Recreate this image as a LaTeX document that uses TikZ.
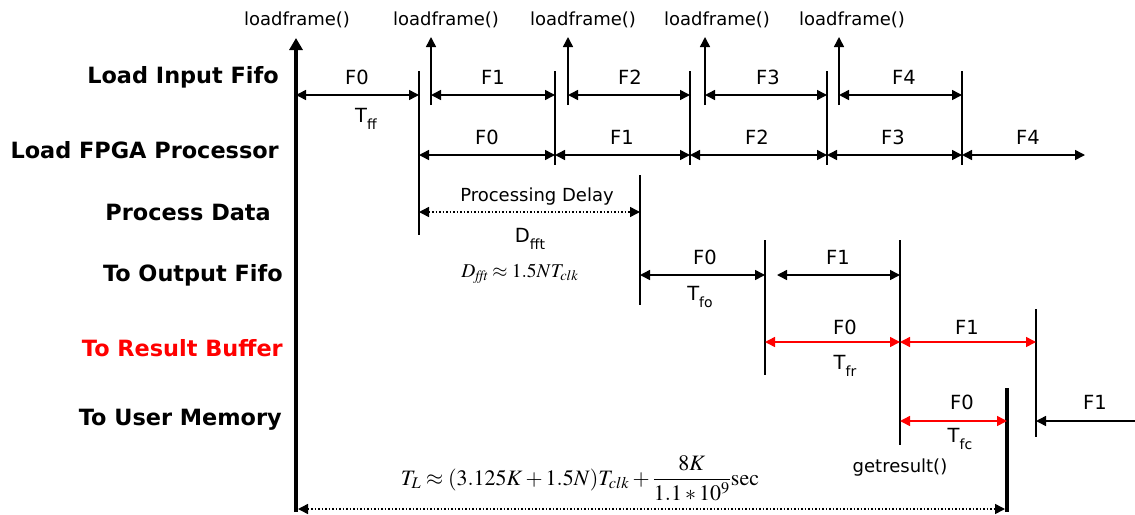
\documentclass[tikz,border=0pt]{standalone}
\usepackage{amsmath}
\usepackage{mathptmx}
\usepackage{fontspec}
\setsansfont{DejaVu Sans}
\usetikzlibrary{arrows.meta}
\newcommand\mysub[1]{\raisebox{-0.38em}{\fontsize{14}{14}\selectfont #1}}
\begin{document}
\begin{tikzpicture}[x=1pt,y=-1pt,
  lab/.style={font=\fontsize{22.4}{22.4}\selectfont\sffamily\bfseries, anchor=east, inner sep=0},
  txt/.style={font=\fontsize{19.5}{19.5}\selectfont\sffamily, inner sep=0},
  fn/.style={font=\fontsize{18}{18}\selectfont\sffamily, inner sep=0},
  dim/.style={line width=1.5pt, {Triangle[length=10pt,width=10pt]}-{Triangle[length=10pt,width=10pt]}},
  upar/.style={line width=1.5pt, -{Triangle[length=10pt,width=10pt]}},
  bar/.style={line width=1.5pt},
  heavybar/.style={line width=3.5pt},
]
\useasboundingbox (0,0) rectangle (1135,514);

% row labels
\node[lab] (l1) at (279,77) {Load Input Fifo};
\node[lab] (l2) at (279,150) {Load FPGA Processor};
\node[lab] (l3) at (271,212) {Process Data};
\node[lab] (l4) at (283,275) {To Output Fifo};
\node[lab, text=red] (l5) at (283,348) {To Result Buffer};
\node[lab] (l6) at (282,420) {To User Memory};

% loadframe labels
\node[fn] (lf0) at (297,20) {loadframe()};
\node[fn] (lf1) at (446,20) {loadframe()};
\node[fn] (lf2) at (583,20) {loadframe()};
\node[fn] (lf3) at (717,20) {loadframe()};
\node[fn] (lf4) at (852,20) {loadframe()};

% main axis
\draw[heavybar, -{Triangle[length=12pt,width=13pt]}] (296,512) -- (296,38);
\foreach \x in {431,568,705,839} \draw[upar] (\x,105) -- (\x,37);

% bars
\draw[bar] (419,71) -- (419,235);
\foreach \x in {555,690,827,962} \draw[bar] (\x,71) -- (\x,165);
\draw[bar] (640,175) -- (640,305);
\draw[bar] (765,240) -- (765,375);
\draw[bar] (900,240) -- (900,445);
\draw[bar] (1036,309) -- (1036,437);
\draw[heavybar] (1007,388) -- (1007,512);

% row 1
\draw[dim] (296,95) -- (419,95);
\draw[dim] (431,95) -- (555,95);
\draw[dim] (568,95) -- (690,95);
\draw[dim] (705,95) -- (827,95);
\draw[dim] (839,95) -- (962,95);
\node[txt] (a0) at (357,77) {F0};
\node[txt] (a1) at (493,77) {F1};
\node[txt] (a2) at (630,77) {F2};
\node[txt] (a3) at (768,77) {F3};
\node[txt] (a4) at (904,77) {F4};
\node[txt] (tff) at (366,119) {T\mysub{ff}};

% row 2
\draw[dim] (419,155) -- (555,155);
\draw[dim] (555,155) -- (690,155);
\draw[dim] (690,155) -- (827,155);
\draw[dim] (827,155) -- (962,155);
\draw[dim] (962,155) -- (1085,155);
\node[txt] (b0) at (487,137) {F0};
\node[txt] (b1) at (622,137) {F1};
\node[txt] (b2) at (757,137) {F2};
\node[txt] (b3) at (893,137) {F3};
\node[txt] (b4) at (1028,137) {F4};

% row 3
\draw[line width=1.5pt, dotted, {Triangle[length=10pt,width=10pt]}-{Triangle[length=10pt,width=10pt]}] (419,212) -- (640,212);
\node[fn] (pd) at (537,197) {Processing Delay};
\node[txt] (dfft) at (530,239) {D\mysub{fft}};
\node[inner sep=0, font=\fontsize{19.5}{19.5}\selectfont] (dform) at (520,274) {$D_{\mathit{fft}}\approx 1.5NT_{clk}$};

% row 4
\draw[dim] (640,275) -- (765,275);
\draw[dim] (777,275) -- (900,275);
\node[txt] (c0) at (705,257) {F0};
\node[txt] (c1) at (838,257) {F1};
\node[txt] (tfo) at (700,297) {T\mysub{fo}};

% row 5
\draw[dim, red] (765,342) -- (900,342);
\draw[dim, red] (900,342) -- (1036,342);
\node[txt] (d0) at (845,327) {F0};
\node[txt] (d1) at (967,327) {F1};
\node[txt] (tfr) at (845,366) {T\mysub{fr}};

% row 6
\draw[dim, red] (900,421) -- (1007,421);
\draw[line width=1.5pt, {Triangle[length=10pt,width=10pt]}-] (1036,421) -- (1135,421);
\node[txt] (e0) at (962,402) {F0};
\node[txt] (e1) at (1095,402) {F1};
\node[txt] (tfc) at (960,439) {T\mysub{fc}};
\node[fn] (gr) at (900,468) {getresult()};

% bottom
\draw[line width=1.5pt, dotted, {Triangle[length=10pt,width=10pt]}-{Triangle[length=10pt,width=10pt]}] (298,509) -- (1005,509);
\node[inner sep=0, font=\fontsize{22}{22}\selectfont] (tl) at (580,478) {$T_L\approx(3.125K+1.5N)T_{clk}+\dfrac{8K}{1.1*10^9}\mathrm{sec}$};
\end{tikzpicture}
\end{document}
